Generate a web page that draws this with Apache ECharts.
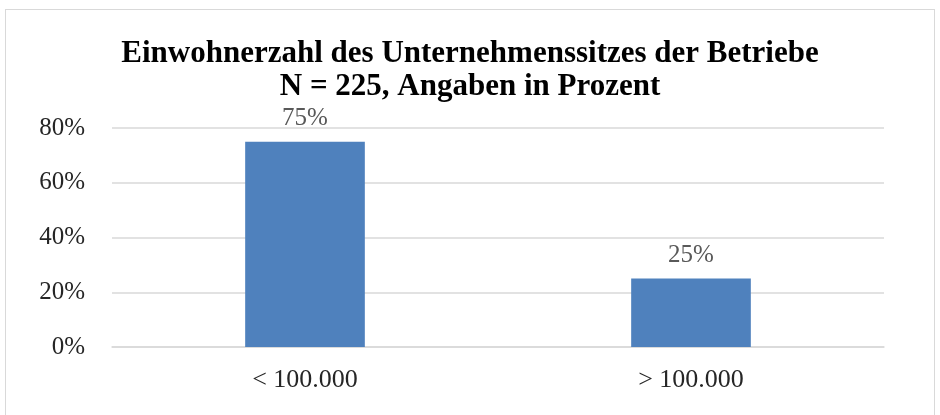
<!DOCTYPE html>
<html>
<head>
<meta charset="utf-8">
<script src="https://cdn.jsdelivr.net/npm/echarts@6/dist/echarts.min.js"></script>
<style>
  html, body { margin: 0; padding: 0; background: #fff; }
  #frame { position: absolute; left: 5px; top: 9px; width: 930px; height: 420px; border: 1px solid #d9d9d9; box-sizing: border-box; }
  #main { position: absolute; left: 0; top: 0; width: 940px; height: 415px; }
</style>
</head>
<body>
<div id="frame"></div>
<div id="main"></div>
<script>
    "use strict";

    var categories = ["< 100.000", "> 100.000"];
    var shares = [75, 25];
    var yTicks = [0, 20, 40, 60, 80];

    var serif = "'Liberation Serif', 'Times New Roman', serif";

    var myChart = echarts.init(document.getElementById('main'));

    var option = {
        animation: false,
        title: {
            text: 'Einwohnerzahl des Unternehmenssitzes der Betriebe\nN = 225, Angaben in Prozent',
            left: 'center',
            top: 32,
            padding: [5, 5, 5, 21],
            textStyle: {
                fontFamily: serif,
                fontSize: 31,
                fontWeight: 'bold',
                color: '#000',
                lineHeight: 33
            }
        },
        grid: {
            left: 112,
            right: 56,
            top: 128,
            bottom: 68
        },
        xAxis: {
            type: 'category',
            data: categories,
            axisLine: { show: true, lineStyle: { color: '#d9d9d9', width: 1.5 } },
            axisTick: { show: false },
            axisLabel: {
                fontFamily: serif,
                fontSize: 26,
                color: '#262626',
                margin: 20
            }
        },
        yAxis: {
            type: 'value',
            min: yTicks[0],
            max: yTicks[yTicks.length - 1],
            interval: 20,
            axisLine: { show: false },
            axisTick: { show: false },
            splitLine: { lineStyle: { color: '#d9d9d9', width: 1.5 } },
            axisLabel: {
                fontFamily: serif,
                fontSize: 25,
                color: '#262626',
                margin: 27,
                formatter: '{value}%'
            }
        },
        series: [{
            name: 'Anteil',
            type: 'bar',
            data: shares,
            barWidth: '31%',
            itemStyle: { color: '#4f81bd' },
            label: {
                show: true,
                position: 'top',
                distance: 11,
                fontFamily: serif,
                fontSize: 25,
                color: '#595959',
                formatter: '{c}%'
            }
        }]
    };

    myChart.setOption(option);
    window.myChart = myChart;
</script>
</body>
</html>
